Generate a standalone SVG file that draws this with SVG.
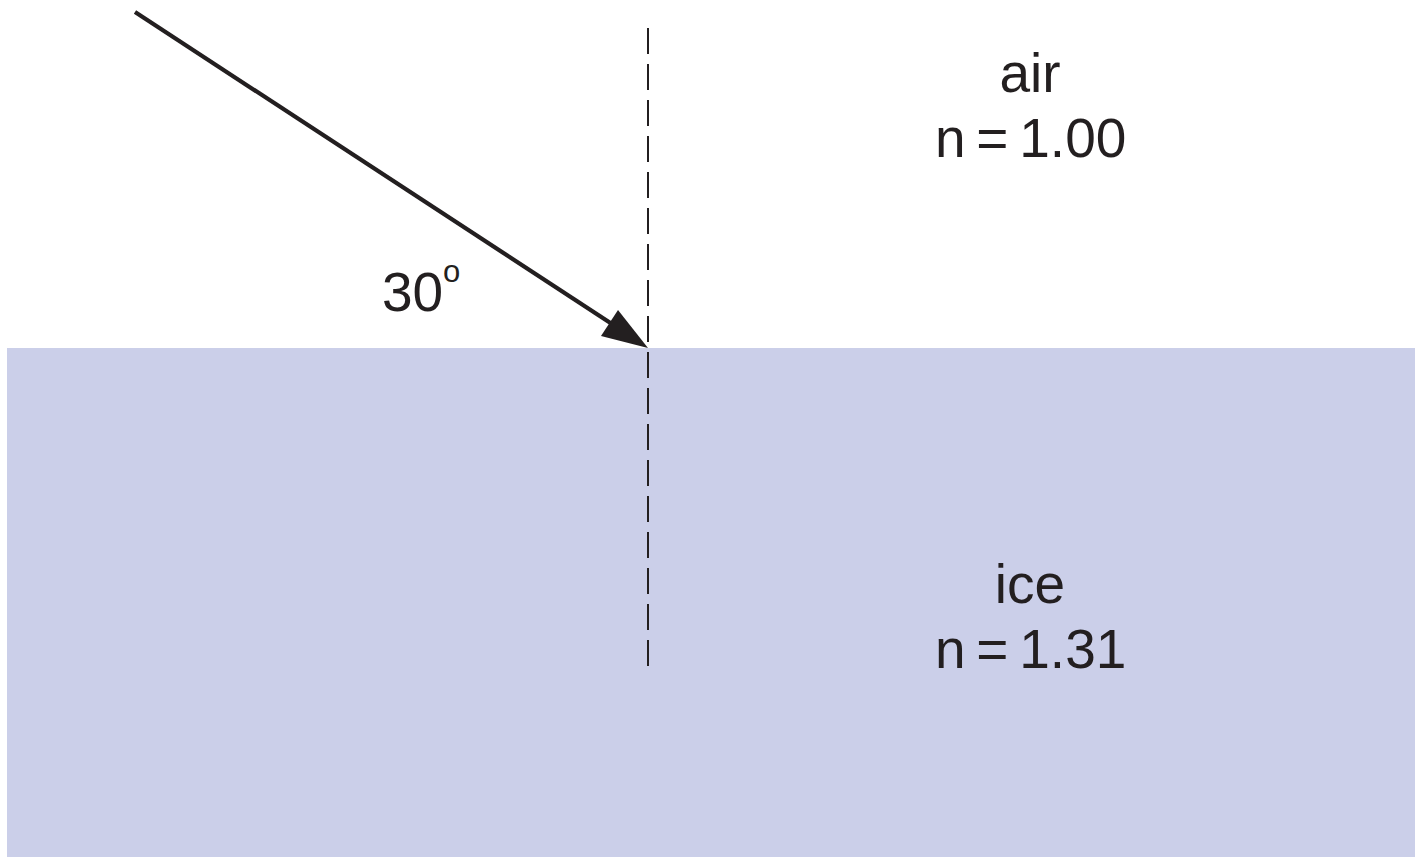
<svg xmlns="http://www.w3.org/2000/svg" width="1421" height="857" viewBox="0 0 1421 857">
  <style>
    .lbl { font-family: "Liberation Sans", Arial, sans-serif; font-size: 55px; fill: #231f20; }
    .eq { word-spacing: -4.5px; }
    .sup { font-family: "Liberation Sans", Arial, sans-serif; font-size: 31px; fill: #231f20; }
    .ray { stroke: #231f20; stroke-width: 4.2; fill: none; }
    .normal { stroke: #231f20; stroke-width: 2; stroke-dasharray: 26 10; fill: none; }
  </style>
  <rect width="1421" height="857" fill="#ffffff"/>
  <g id="ice-medium">
    <rect x="7" y="348" width="1408" height="509" fill="#cbcfe9"/>
  </g>
  <g id="connectors">
    <line class="normal" x1="648" y1="28" x2="648" y2="667"/>
    <line class="ray" x1="135" y1="12" x2="612" y2="324"/>
    <polygon points="648,348 618,310 601,336" fill="#231f20"/>
  </g>
  <g id="air-label">
    <text class="lbl" x="1030" y="92" text-anchor="middle">air</text>
    <text class="lbl eq" x="935" y="157">n = 1.00</text>
  </g>
  <g id="ice-label">
    <text class="lbl" x="1030" y="603" text-anchor="middle">ice</text>
    <text class="lbl eq" x="935" y="668">n = 1.31</text>
  </g>
  <g id="angle-label">
    <text class="lbl" x="382" y="311">30</text>
    <text class="sup" x="443" y="282">o</text>
  </g>
</svg>
